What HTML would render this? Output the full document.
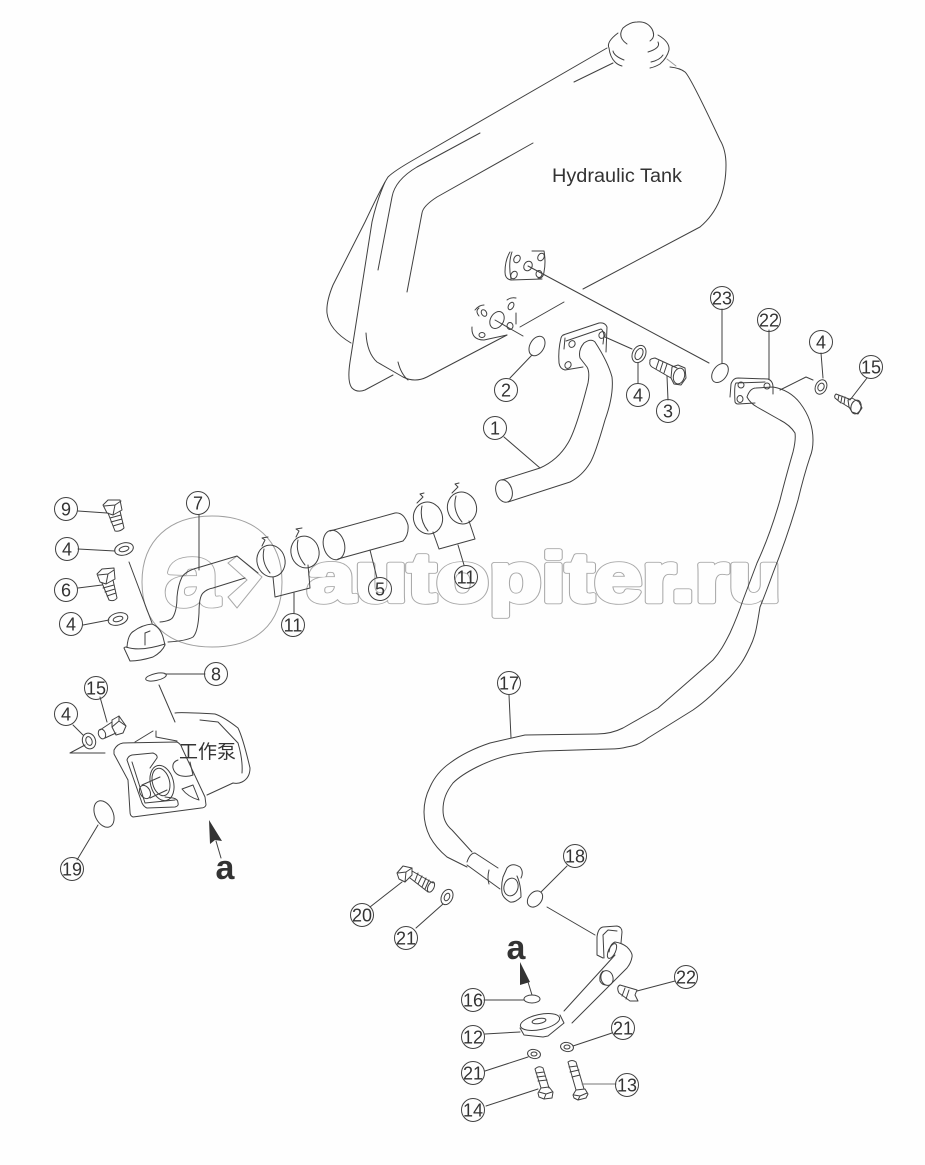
<!DOCTYPE html>
<html><head><meta charset="utf-8"><style>
html,body{margin:0;padding:0;background:#fefefe}
svg{display:block}
.l{fill:none;stroke:#404040;stroke-width:1;stroke-linecap:round;stroke-linejoin:round}
.n circle{fill:none;stroke:#404040;stroke-width:1}
.n text{font:18px "Liberation Sans",sans-serif;fill:#333;text-anchor:middle}
</style></head><body>
<svg width="925" height="1165" viewBox="0 0 925 1165" xmlns="http://www.w3.org/2000/svg">
<!-- watermark -->
<g font-family="'Liberation Sans',sans-serif" font-weight="bold">
<text x="307" y="601.5" font-size="70" textLength="474" lengthAdjust="spacingAndGlyphs" fill="none" stroke="#a8a8a8" stroke-width="5.5" stroke-linejoin="round">autopiter.ru</text>
<text x="307" y="601.5" font-size="70" textLength="474" lengthAdjust="spacingAndGlyphs" fill="#fefefe" stroke="#fefefe" stroke-width="3.8" stroke-linejoin="round">autopiter.ru</text>
<text x="165" y="605" font-size="85" textLength="54" lengthAdjust="spacingAndGlyphs" fill="none" stroke="#a8a8a8" stroke-width="5.5" stroke-linejoin="round">a</text>
<text x="165" y="605" font-size="85" textLength="54" lengthAdjust="spacingAndGlyphs" fill="#fefefe" stroke="#fefefe" stroke-width="3.8" stroke-linejoin="round">a</text>
</g>
<polygon points="228,563 237,556 262,577 237,608 228,597 247,580" fill="none" stroke="#a8a8a8"/>
<path d="M212,516C255,516 282,540 282,582C282,625 255,647 212,647C170,647 142,625 142,582C142,540 170,516 212,516Z" fill="none" stroke="#a0a0a0"/>

<g class="l">
<!-- tank -->
<path d="M607,48L415,159Q394,171 388,177Q381,188 365,222L333,285Q326,302 327,313Q329,330 351,343"/>
<path d="M385,182Q377,200 372,222L350,362Q347,382 352,388Q357,393 365,390L393,375"/>
<path d="M480,133L417,167Q395,180 392,197L378,270"/>
<path d="M533,143L437,197Q423,206 422,213L407,292"/>
<path d="M613,63L574,82"/>
<path d="M670,67Q680,68 685,72Q690,76 720,140Q726,150 726,165Q726,205 700,227L583,289"/>
<path d="M564,302L520,327"/>
<path d="M507,335L427,377Q415,383 403,377L377,362Q367,353 366,333"/>
<path d="M398,362Q401,374 408,380"/>
<path d="M667,59L676,66" stroke="#999"/>
<!-- cap -->
<path d="M627,44Q617,37 623,28Q630,22 637,22Q647,21 652,29Q656,37 650,41"/>
<path d="M618,33Q606,42 609,48Q610,57 615,62Q618,65 622,66"/>
<path d="M613,51Q614,56 624,60"/>
<path d="M658,35Q670,42 669,50Q667,58 660,64Q655,67 650,68"/>
<path d="M658,42Q661,48 648,52M663,55Q660,60 651,62"/>
<!-- rear flange upper -->
<path d="M510,252Q505,260 505,272Q505,279 511,280L542,279M512,252Q508,263 511,279"/>
<path d="M532,251L544,251Q546,262 544,272Q543,279 538,278"/>
<ellipse cx="517" cy="259" rx="3" ry="4" transform="rotate(30 517 259)"/>
<ellipse cx="541" cy="257" rx="3" ry="4" transform="rotate(30 541 257)"/>
<ellipse cx="514" cy="275" rx="3" ry="4" transform="rotate(30 514 275)"/>
<ellipse cx="539" cy="274" rx="3" ry="3.5"/>
<ellipse cx="528" cy="266" rx="4" ry="5" transform="rotate(30 528 266)"/>
<path d="M528,266L709,363"/>
<!-- rear flange lower -->
<ellipse cx="497" cy="320" rx="6.5" ry="9" transform="rotate(30 497 320)"/>
<ellipse cx="510" cy="326" rx="3" ry="3.5"/>
<ellipse cx="511" cy="306" rx="2.5" ry="4" transform="rotate(30 511 306)"/>
<ellipse cx="484" cy="313" rx="2.5" ry="3.5" transform="rotate(-30 484 313)"/>
<ellipse cx="482" cy="335" rx="3" ry="2.5"/>
<path d="M495,320L523,336M516,313V324"/>
<path d="M475,310Q479,305 484,305M479,316Q475,311 479,308M507,300Q511,297 516,298M472,327Q471,340 484,340L507,335"/>
<!-- O-ring 2 -->
<ellipse cx="537" cy="346" rx="7" ry="10.5" transform="rotate(30 537 346)"/>
<path d="M532,355L510,378"/>
<!-- pipe 1 -->
<ellipse cx="504" cy="491" rx="8" ry="11.5" transform="rotate(-18 504 491)"/>
<path d="M502,480L540,468Q558,460 568,443Q576,430 588,383Q590,372 587,367L580,358Q578,350 584,343Q591,338 595,342Q608,362 612,377Q614,395 605,420Q595,455 590,463Q582,476 570,482L508,502"/>
<path d="M504,437L540,468"/>
<path d="M563,335L599,323Q605,322 607,327L606,352M559,363Q558,350 561,338Q562,335 564,335M559,363Q560,369 565,370L583,367"/>
<path d="M566,341L601,329Q603,330 604,335L603,344M564,349L565,338"/>
<ellipse cx="572" cy="344" rx="3" ry="3.5" transform="rotate(30 572 344)"/>
<ellipse cx="568" cy="365" rx="3" ry="3.5" transform="rotate(30 568 365)"/>
<ellipse cx="602" cy="335" rx="3" ry="3.5" transform="rotate(30 602 335)"/>
<path d="M605,337L632,349"/>
<ellipse cx="639" cy="354" rx="6.5" ry="9" transform="rotate(25 639 354)"/>
<ellipse cx="639" cy="354" rx="3.5" ry="6" transform="rotate(25 639 354)"/>
<path d="M638,363V383"/>
<!-- bolt 3 -->
<path d="M655,358L677,368M652,367L671,378M655,358Q649,359 650,361Q649,365 652,367M659,360L656,369M663,362L660,371M667,364L664,373"/>
<path d="M671,378L672,367L678,365L685,368L686,378L681,385L674,384Z"/>
<ellipse cx="679" cy="376" rx="5.5" ry="8" transform="rotate(15 679 376)"/>
<path d="M667,376L668,400"/>
<!-- 23 -->
<ellipse cx="720" cy="373" rx="7" ry="10.5" transform="rotate(35 720 373)"/>
<path d="M722,309V363"/>
<!-- right flange / pipe 17 -->
<path d="M730,397L731,384Q733,378 738,378L768,379Q773,381 773,387"/>
<path d="M736,383Q734,385 735,402Q736,404 738,404L755,403M736,383L765,382"/>
<ellipse cx="741" cy="385" rx="3" ry="3"/>
<ellipse cx="740" cy="399" rx="3" ry="3.5"/>
<ellipse cx="767" cy="386" rx="3" ry="3"/>
<path d="M773,387V394M769,379V330"/>
<path d="M747,397Q750,388 756,388L773,387Q790,390 800,403Q813,420 813,440Q813,450 810,457Q804,475 798,500Q788,535 773,573Q765,595 760,607C757,625 756,635 750,647C744,660 740,666 730,677C715,692 706,701 693,710L648,738C640,744 634,746 627,747C620,749 615,749 610,749L543,751C530,752 520,753 510,755C497,758 487,762 477,767C467,772 459,777 453,783C446,792 443,800 443,810C443,818 446,825 452,830L472,852"/>
<path d="M747,397Q750,403 757,407L780,420Q790,425 795,433Q796,440 793,452Q785,480 780,500Q770,535 757,563L743,600C739,612 735,622 730,633C724,645 720,652 713,660L658,708L623,728C615,732 606,734 597,734L525,735L490,743C475,748 462,754 450,763C440,770 434,778 430,787C426,795 424,803 424,812C424,821 426,829 430,837C435,846 441,852 447,857L467,867"/>
<path d="M780,390L806,377L813,380"/>
<ellipse cx="821" cy="387" rx="5.5" ry="7.5" transform="rotate(25 821 387)"/>
<ellipse cx="821" cy="387" rx="3" ry="4" transform="rotate(25 821 387)"/>
<path d="M821,353L823,378"/>
<!-- bolt 15 right -->
<path d="M836,394L849,399M842,403L850,408M836,394Q834,396 835,398L841,403M839,395L838,400M842,396L841,402M845,397L844,404"/>
<path d="M848,400L852,398L859,402L862,408L858,414L852,412L849,407Z"/>
<ellipse cx="856" cy="407" rx="5" ry="7" transform="rotate(15 856 407)"/>
<path d="M850,400L867,378"/>
<!-- clamps -->
<ellipse cx="271" cy="561" rx="14" ry="16" transform="rotate(-15 271 561)"/>
<path d="M264,549Q261,562 270,573"/>
<path d="M262,546L265,540L262,538L268,537"/>
<ellipse cx="305" cy="552" rx="14" ry="16" transform="rotate(-15 305 552)"/>
<path d="M298,540Q295,553 305,565"/>
<path d="M296,537L299,531L296,529L302,528"/>
<path d="M273,577L275,597L310,588L308,565"/>
<path d="M294,593V613"/>
<ellipse cx="428" cy="518" rx="14.5" ry="16" transform="rotate(-15 428 518)"/>
<path d="M422,506Q419,520 428,531"/>
<path d="M417,503L423,497L420,494L424,493"/>
<ellipse cx="462" cy="508" rx="14.5" ry="16" transform="rotate(-15 462 508)"/>
<path d="M456,496Q452,510 462,522"/>
<path d="M452,493L458,487L455,484L459,483"/>
<path d="M433,532L439,549L475,539L469,521"/>
<path d="M458,545L464,565"/>
<!-- hose 5 -->
<ellipse cx="334" cy="545" rx="10.5" ry="15" transform="rotate(-15 334 545)"/>
<path d="M330,531L395,513Q404,512 408,525Q409,535 403,541L338,559"/>
<path d="M370,550L377,578"/>
<!-- elbow 7 -->
<path d="M160,622Q171,621 173,617Q177,610 177,597Q178,585 182,577Q186,571 197,568L237,556L258,573"/>
<path d="M168,642Q186,641 193,637Q198,632 199,613Q199,597 203,593Q207,589 213,588L245,578"/>
<path d="M199,515V570"/>
<path d="M127,647Q128,634 134,631Q142,625 152,624Q160,627 163,637L165,645Q162,652 153,657Q140,661 130,661L124,648Q124,647 127,647Z"/>
<path d="M126,647Q140,652 165,644M145,633V645M145,633L150,631"/>
<path d="M129,562L152,623"/>
<!-- bolt 9 -->
<path d="M103,505L108,500L120,500L122,510L113,515L107,513Z"/>
<path d="M104,506L115,505L121,501M115,505L113,515"/>
<path d="M108,513L115,531Q120,532 124,528L120,511M110,518L121,515M111,522L122,519M113,526L123,523"/>
<path d="M78,511L107,513"/>
<!-- washers -->
<ellipse cx="124" cy="549" rx="9.5" ry="6" transform="rotate(-15 124 549)"/>
<ellipse cx="124" cy="549" rx="5" ry="2.5" transform="rotate(-15 124 549)"/>
<path d="M78,549L115,551"/>
<ellipse cx="118" cy="619" rx="10" ry="6" transform="rotate(-15 118 619)"/>
<ellipse cx="118" cy="619" rx="5" ry="2.5" transform="rotate(-15 118 619)"/>
<path d="M83,625L109,620"/>
<!-- bolt 6 -->
<path d="M97,574L102,569L114,568L115,579L106,584L100,582Z"/>
<path d="M98,575L108,574L114,570M108,574L106,584"/>
<path d="M102,583L109,600Q114,602 117,598L113,580M103,588L114,585M105,592L115,589M107,596L116,593"/>
<path d="M78,588L102,585"/>
<!-- 8 -->
<ellipse cx="156" cy="677" rx="10.5" ry="3.5" transform="rotate(-12 156 677)"/>
<path d="M165,674L205,674"/>
<path d="M159,685L175,722"/>
<!-- bolt 15 left / nut -->
<path d="M100,730L112,722M105,738L116,733"/>
<ellipse cx="102" cy="734" rx="3.5" ry="5" transform="rotate(-20 102 734)"/>
<path d="M112,720L119,716L126,726L123,733L116,735L112,727Z"/>
<path d="M112,727L119,721L119,716M119,721L126,726"/>
<path d="M100,697L107,722"/>
<ellipse cx="89" cy="741" rx="6.5" ry="8" transform="rotate(-20 89 741)"/>
<ellipse cx="89" cy="741" rx="3" ry="4.5" transform="rotate(-20 89 741)"/>
<path d="M73,725L83,735"/>
<path d="M70,753H105M70,753L85,745M135,742L153,731M156,731V737L177,741"/>
<!-- pump -->
<path d="M175,713Q180,712 215,714Q224,717 238,728Q243,738 250,768Q250,778 242,782Q238,784 233,783L207,795"/>
<path d="M200,720L218,722L238,743Q243,760 242,773"/>
<path d="M114,750Q117,744 123,743L177,742Q181,744 182,748L205,797L206,805Q205,808 201,808L133,817Q130,816 130,812L128,780L114,754Z"/>
<path d="M127,760Q128,756 132,755L153,753Q158,755 157,758L150,768"/>
<path d="M127,760L142,803Q144,807 147,808L175,807Q179,806 178,803Q178,799 173,798L165,797"/>
<path d="M132,762L145,803L175,800"/>
<ellipse cx="162" cy="783" rx="11.5" ry="18" transform="rotate(-15 162 783)"/>
<ellipse cx="161" cy="782" rx="8.5" ry="14" transform="rotate(-15 161 782)"/>
<ellipse cx="145" cy="792" rx="5" ry="7" transform="rotate(-30 145 792)"/>
<path d="M142,785L160,777M150,798L167,790"/>
<path d="M178,760Q172,762 173,768Q175,775 182,776Q188,777 193,775L190,762"/>
<path d="M182,789L193,785L199,800Q188,797 182,789Z"/>
<!-- O-ring 19 -->
<ellipse cx="104" cy="814" rx="9" ry="14" transform="rotate(-25 104 814)"/>
<path d="M98,825L77,860"/>
<!-- lower pipe end -->
<path d="M467,862Q470,853 475,853L498,868M467,865L500,889M489,870Q487,878 489,884"/>
<path d="M503,877L507,868Q512,862 520,867Q524,872 521,878M517,876Q521,885 521,897Q515,903 510,902Q503,898 502,893Q501,885 503,877"/>
<ellipse cx="511" cy="887" rx="7" ry="9" transform="rotate(15 511 887)"/>
<!-- bolt 20 -->
<path d="M397,873L403,866L412,868L412,875L405,882L399,879Z"/>
<path d="M398,873L406,872L412,868M406,872L405,882"/>
<path d="M412,871L433,883M410,878L428,892M418,873L415,881M422,876L418,884M426,878L422,887M429,880L425,889"/>
<ellipse cx="431" cy="887" rx="3" ry="5.5" transform="rotate(25 431 887)"/>
<path d="M402,882L370,907"/>
<ellipse cx="447" cy="897" rx="5.5" ry="8" transform="rotate(25 447 897)"/>
<ellipse cx="447" cy="897" rx="2.5" ry="4" transform="rotate(25 447 897)"/>
<path d="M443,904L416,928"/>
<!-- 18 -->
<ellipse cx="535" cy="899" rx="6.5" ry="9" transform="rotate(40 535 899)"/>
<path d="M541,892L567,866"/>
<path d="M547,907L595,935"/>
<!-- lower elbow -->
<path d="M597,937Q598,928 603,927L617,926Q622,927 622,932L621,943"/>
<path d="M597,937L597,955L603,958M603,935L608,930L617,931M603,935L604,958"/>
<path d="M609,952Q610,944 615,942Q622,943 627,947Q633,953 632,957Q631,963 627,968L572,1023"/>
<path d="M615,955L564,1011"/>
<ellipse cx="612" cy="951" rx="3.5" ry="8" transform="rotate(25 612 951)"/>
<ellipse cx="607" cy="978" rx="6" ry="7.5" transform="rotate(-15 607 978)"/>
<path d="M603,971Q599,975 600,981Q602,985 606,985"/>
<!-- 22 stud -->
<path d="M620,985L637,990L635,995L638,1001L630,1001L619,993Q616,987 620,985M625,988L622,996M629,990L626,999"/>
<path d="M637,991L675,981"/>
<!-- block 12 -->
<ellipse cx="540" cy="1022" rx="20" ry="7.5" transform="rotate(-12 540 1022)"/>
<ellipse cx="539" cy="1021" rx="7" ry="2.5" transform="rotate(-10 539 1021)"/>
<path d="M520,1028L524,1035L543,1037L548,1036L564,1023L560,1015"/>
<path d="M485,1034L520,1032"/>
<!-- 16 -->
<ellipse cx="532" cy="999" rx="8" ry="4"/>
<path d="M484,1000H524M532,995L528,982"/>
<!-- nuts -->
<ellipse cx="534" cy="1054" rx="6.5" ry="4.5" transform="rotate(10 534 1054)"/>
<ellipse cx="534" cy="1054" rx="3" ry="2"/>
<path d="M485,1071L528,1057"/>
<ellipse cx="567" cy="1047" rx="6.5" ry="4.5" transform="rotate(10 567 1047)"/>
<ellipse cx="567" cy="1047" rx="3" ry="2"/>
<path d="M612,1033L573,1046"/>
<!-- bolt 14 -->
<path d="M535,1069Q539,1065 543,1068L549,1088M535,1069L541,1088M536,1073L544,1072M537,1077L545,1076M538,1081L547,1080"/>
<path d="M538,1093L541,1088L549,1087L553,1092L552,1098L544,1099L539,1097Z"/>
<path d="M539,1092L546,1094L552,1092M546,1094L544,1099"/>
<path d="M486,1106L538,1089"/>
<!-- bolt 13 -->
<path d="M568,1062Q572,1059 576,1062L584,1089M568,1062L576,1090M569,1067L577,1066M570,1072L579,1070M572,1077L580,1075"/>
<path d="M573,1095L576,1090L585,1089L588,1094L586,1098L578,1100L574,1098Z"/>
<path d="M574,1095L580,1096L587,1093M580,1096L578,1100"/>
<path d="M582,1084L616,1084" stroke="#777"/>
</g>
<!-- arrows -->
<path d="M209,820L222,841L215,840L210,844Z" fill="#333"/>
<path d="M216,841L221,858" class="l"/>
<text x="225" y="879" font-family="'Liberation Sans',sans-serif" font-weight="bold" font-size="34" fill="#333" text-anchor="middle">a</text>
<path d="M520,962L530,982L520,985Z" fill="#333"/>
<text x="516" y="959" font-family="'Liberation Sans',sans-serif" font-weight="bold" font-size="34" fill="#333" text-anchor="middle">a</text>
<!-- texts -->
<text x="552" y="182" font-family="'Liberation Sans',sans-serif" font-size="19" fill="#333" textLength="130" lengthAdjust="spacingAndGlyphs">Hydraulic Tank</text>
<text x="179" y="758" font-family="'Liberation Sans','Noto Sans CJK SC',sans-serif" font-size="19" fill="#333">工作泵</text>
<!-- number callouts -->
<g class="n">
<g><circle cx="495" cy="428" r="11.5"/><text x="495" y="434.5">1</text></g>
<g><circle cx="506" cy="390" r="11.5"/><text x="506" y="396.5">2</text></g>
<g><circle cx="668" cy="411" r="11.5"/><text x="668" y="417.5">3</text></g>
<g><circle cx="638" cy="395" r="11.5"/><text x="638" y="401.5">4</text></g>
<g><circle cx="722" cy="298" r="11.5"/><text x="722" y="304.5">23</text></g>
<g><circle cx="769" cy="320" r="11.5"/><text x="769" y="326.5">22</text></g>
<g><circle cx="821" cy="342" r="11.5"/><text x="821" y="348.5">4</text></g>
<g><circle cx="871" cy="367" r="11.5"/><text x="871" y="373.5">15</text></g>
<g><circle cx="66" cy="509" r="11.5"/><text x="66" y="515.5">9</text></g>
<g><circle cx="67" cy="549" r="11.5"/><text x="67" y="555.5">4</text></g>
<g><circle cx="66" cy="590" r="11.5"/><text x="66" y="596.5">6</text></g>
<g><circle cx="71" cy="624" r="11.5"/><text x="71" y="630.5">4</text></g>
<g><circle cx="198" cy="503" r="11.5"/><text x="198" y="509.5">7</text></g>
<g><circle cx="293" cy="625" r="11.5"/><text x="293" y="631.5">11</text></g>
<g><circle cx="380" cy="589" r="11.5"/><text x="380" y="595.5">5</text></g>
<g><circle cx="466" cy="577" r="11.5"/><text x="466" y="583.5">11</text></g>
<g><circle cx="216" cy="674" r="11.5"/><text x="216" y="680.5">8</text></g>
<g><circle cx="96" cy="688" r="11.5"/><text x="96" y="694.5">15</text></g>
<g><circle cx="66" cy="714" r="11.5"/><text x="66" y="720.5">4</text></g>
<g><circle cx="72" cy="869" r="11.5"/><text x="72" y="875.5">19</text></g>
<g><circle cx="509" cy="683" r="11.5"/><text x="509" y="689.5">17</text></g>
<g><circle cx="575" cy="856" r="11.5"/><text x="575" y="862.5">18</text></g>
<g><circle cx="362" cy="915" r="11.5"/><text x="362" y="921.5">20</text></g>
<g><circle cx="406" cy="938" r="11.5"/><text x="406" y="944.5">21</text></g>
<g><circle cx="473" cy="1000" r="11.5"/><text x="473" y="1006.5">16</text></g>
<g><circle cx="473" cy="1037" r="11.5"/><text x="473" y="1043.5">12</text></g>
<g><circle cx="473" cy="1073" r="11.5"/><text x="473" y="1079.5">21</text></g>
<g><circle cx="473" cy="1110" r="11.5"/><text x="473" y="1116.5">14</text></g>
<g><circle cx="627" cy="1085" r="11.5"/><text x="627" y="1091.5">13</text></g>
<g><circle cx="623" cy="1028" r="11.5"/><text x="623" y="1034.5">21</text></g>
<g><circle cx="686" cy="977" r="11.5"/><text x="686" y="983.5">22</text></g>
</g>
<path class="l" d="M509,695L511,738"/>
</svg>
</body></html>
